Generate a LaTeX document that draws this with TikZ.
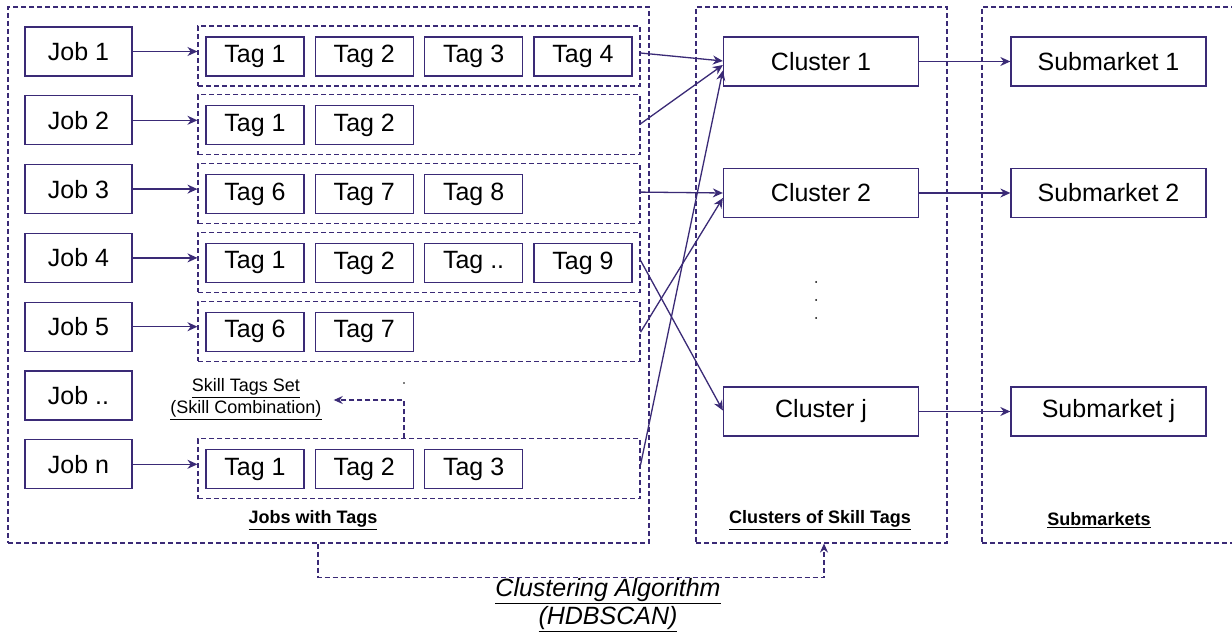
\documentclass[tikz,border=0pt]{standalone}
\usepackage{fontspec}
\setmainfont{Liberation Sans}
\usetikzlibrary{arrows.meta,calc}
\definecolor{lc}{RGB}{58,42,118}
\begin{document}
\begin{tikzpicture}[x=1pt,y=-1pt,
 box/.style={draw=lc,line width=1.3pt,fill=white,inner sep=0pt,minimum height=49pt,font=\fontsize{25}{30}\selectfont},
 jobbox/.style={box,minimum width=107pt},
 tagbox/.style={box,minimum width=98pt,minimum height=39pt},
 clbox/.style={box,minimum width=195pt},
 dsh/.style={draw=lc,line width=1.1pt,dash pattern=on 5pt off 3pt},
 grp/.style={dsh,inner sep=0pt,minimum width=442pt,minimum height=60pt},
 outer/.style={dsh,inner sep=0pt,minimum height=536pt},
 conn/.style={draw=lc,line width=1.3pt,-{Stealth[length=10pt,width=9pt]}},
 dconn/.style={dsh,-{Stealth[length=9pt,width=8pt]}},
 sect/.style={font=\fontsize{18}{21}\selectfont\bfseries},
]
\useasboundingbox[fill=white] (0,0) rectangle (1232,636);
% outer sections
\node[outer,minimum width=641pt] (ob1) at (328.5,275) {};
\node[outer,minimum width=251pt] (ob2) at (821.5,275) {};
\node[outer,minimum width=263pt] (ob3) at (1113.5,275) {};
% groups
\foreach \r in {0,1,2,3,4,6} \node[grp] (g\r) at (419,{56+68.8*\r}) {};
% jobs
\foreach \r/\lab in {0/1,1/2,2/3,3/4,4/5,5/..,6/n}
  \node[jobbox] (j\r) at (78.5,{51.5+68.8*\r}) {Job \lab};
% tags
\foreach \r/\tags in {0/{1,2,3,4},1/{1,2},2/{6,7,8},3/{1,2,..,9},4/{6,7},6/{1,2,3}}{
  \foreach \t [count=\k from 0] in \tags
    \node[tagbox] (t\r-\k) at ({255+109.3*\k},{56.5+68.8*\r}) {Tag \t};
}
% job -> group arrows
\foreach \r in {0,1,2,3,4,6} \draw[conn] (j\r.east) -- (j\r.east -| g\r.west);
% clusters and submarkets
\node[clbox] (c1) at (821,61.5) {Cluster 1};
\node[clbox] (c2) at (821,193) {Cluster 2};
\node[clbox] (cj) at (821,411.5) {Cluster j};
\node[clbox] (s1) at (1108.5,61.5) {Submarket 1};
\node[clbox] (s2) at (1108.5,193) {Submarket 2};
\node[clbox] (sj) at (1108.5,411.5) {Submarket j};
% group -> cluster connectors
\draw[conn] ($(g0.east)+(0,-3)$) -- ($(c1.west)+(0,-0.5)$);
\draw[conn] ($(g1.east)+(0,-1)$) -- ($(c1.west)+(0,3.5)$);
\draw[conn] ($(g2.east)+(0,-1.5)$) -- (c2.west);
\draw[conn] ($(g3.east)+(0,-2)$) -- ($(cj.west)+(0,-1)$);
\draw[conn] ($(g4.east)+(0,1)$) -- ($(c2.west)+(0,5)$);
\draw[conn] ($(g6.east)+(0,-4)$) -- ($(c1.west)+(0,9)$);
% cluster -> submarket
\draw[conn] (c1) -- (s1);
\draw[conn] (c2) -- (s2);
\draw[conn] (cj) -- (sj);
% vertical dots
\foreach \yy [count=\i] in {282,300,318} \fill[black] (816,\yy) circle (1pt);
% skill tags set label
\node[font=\fontsize{18}{22}\selectfont,align=center,inner sep=0pt] (sts) at (246,399)
  {\underline{Skill Tags Set}\\\underline{(Skill Combination)}};
\coordinate (skx) at (404,0);
\draw[dconn] (g6.north -| skx) |- ($(sts.east)+(12,1)$);
\fill[black] (404,383) circle (0.9pt);
% section labels
\node[sect] (l1) at (313,520) {\underline{Jobs with Tags}};
\node[sect] (l2) at (820,520) {\underline{Clusters of Skill Tags}};
\node[sect] (l3) at (1099,520) {\underline{Submarkets}};
% clustering algorithm
\coordinate (ca) at (318,0);
\coordinate (cb) at (824,0);
\draw[dconn] (ob1.south -| ca) -- ++(0,33.5) -| (ob2.south -| cb);
\node[font=\fontsize{25}{28}\selectfont\itshape,align=center,inner sep=0pt] (alg) at (608,605)
  {\underline{Clustering Algorithm}\\\underline{(HDBSCAN)}};
\end{tikzpicture}
\end{document}
